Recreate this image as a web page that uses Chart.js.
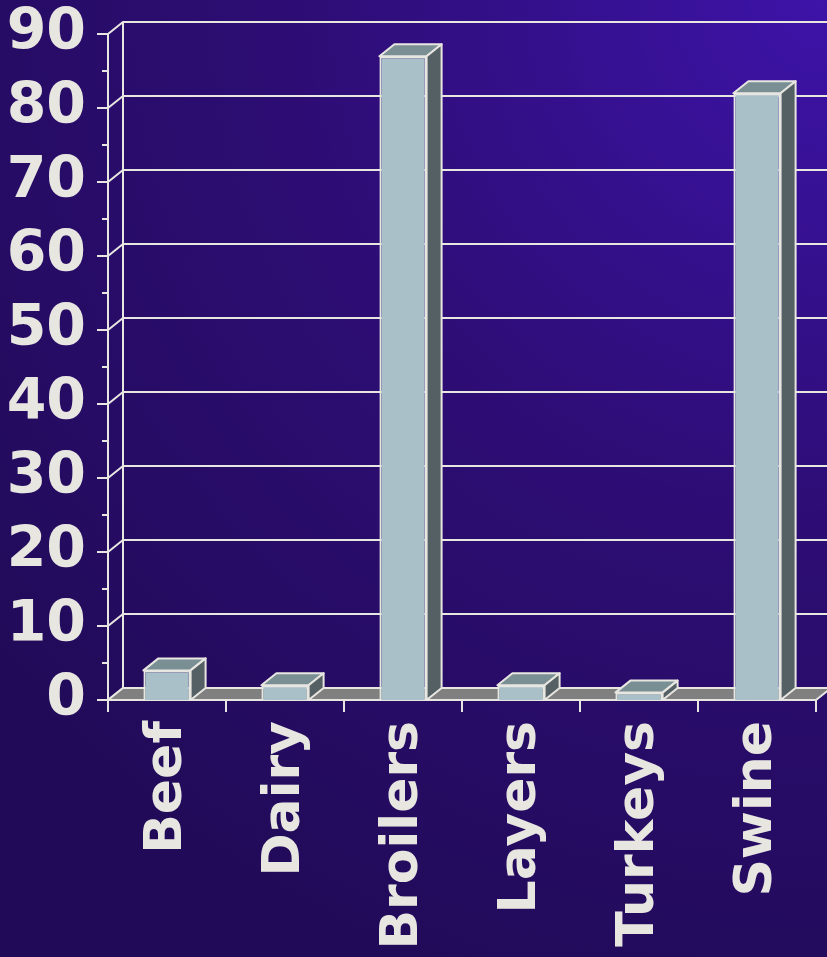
<!DOCTYPE html>
<html>
<head>
<meta charset="utf-8">
<script src="https://cdn.jsdelivr.net/npm/chart.js@4/dist/chart.umd.min.js"></script>
<style>
  html, body { margin: 0; padding: 0; }
  body {
    width: 827px; height: 957px; overflow: hidden;
    background: radial-gradient(ellipse 130% 110% at 100% 0%, #3d13a8 0%, #2d0d74 50%, #210b58 100%);
  }
  canvas { display: block; }
</style>
</head>
<body>
<canvas id="barChart" width="827" height="957"></canvas>
<script>
// categorias y valores del grafico
const categories = ['Beef', 'Dairy', 'Broilers', 'Layers', 'Turkeys', 'Swine'];
const values = [4, 2, 87, 2, 1, 82];
const yTicks = [0, 10, 20, 30, 40, 50, 60, 70, 80, 90];

const textColor = '#e8e6e1';
const lineColor = '#e8e6e1';
const depth = { x: 15, y: -12 }; // desplazamiento de la pared del fondo

// Plugin para dibujar el efecto 3D (pared, piso y caras de las barras)
const box3d = {
    id: 'box3d',
    beforeDatasetsDraw(chart) {
        const ctx = chart.ctx;
        const a = chart.chartArea;
        const y = chart.scales.y;
        const y0 = y.getPixelForValue(0);
        const yMax = y.getPixelForValue(yTicks[yTicks.length - 1]);
        ctx.save();
        ctx.strokeStyle = lineColor;
        ctx.lineWidth = 2;

        // pared del fondo
        ctx.beginPath();
        ctx.moveTo(a.left + depth.x, y0 + depth.y);
        ctx.lineTo(a.left + depth.x, yMax + depth.y);
        ctx.stroke();

        // lineas de la cuadricula + diagonales
        yTicks.forEach(v => {
            const py = y.getPixelForValue(v);
            ctx.beginPath();
            ctx.moveTo(a.left, py);
            ctx.lineTo(a.left + depth.x, py + depth.y);
            ctx.lineTo(chart.width + 20, py + depth.y);
            ctx.stroke();
            // marca mayor
            ctx.beginPath();
            ctx.moveTo(a.left - 11, py);
            ctx.lineTo(a.left, py);
            ctx.stroke();
            // marca menor
            if (v < yTicks[yTicks.length - 1]) {
                const pm = y.getPixelForValue(v + 5);
                ctx.beginPath();
                ctx.moveTo(a.left - 6, pm);
                ctx.lineTo(a.left, pm);
                ctx.stroke();
            }
        });

        // eje vertical frontal
        ctx.beginPath();
        ctx.moveTo(a.left, y0);
        ctx.lineTo(a.left, yMax);
        ctx.stroke();

        // piso
        ctx.beginPath();
        ctx.moveTo(a.left, y0);
        ctx.lineTo(a.right, y0);
        ctx.lineTo(a.right + depth.x, y0 + depth.y);
        ctx.lineTo(a.left + depth.x, y0 + depth.y);
        ctx.closePath();
        ctx.fillStyle = '#808080';
        ctx.fill();
        ctx.stroke();

        // marcas del eje x
        for (let i = 0; i <= categories.length; i++) {
            const px = a.left + (a.right - a.left) * i / categories.length;
            ctx.beginPath();
            ctx.moveTo(px, y0);
            ctx.lineTo(px, y0 + 12);
            ctx.stroke();
        }
        ctx.restore();
    },
    afterDatasetsDraw(chart) {
        const ctx = chart.ctx;
        const meta = chart.getDatasetMeta(0);
        ctx.save();
        ctx.strokeStyle = lineColor;
        ctx.lineWidth = 2;
        ctx.lineJoin = 'round';
        meta.data.forEach(bar => {
            const p = bar.getProps(['x', 'y', 'base', 'width'], true);
            const l = p.x - p.width / 2;
            const r = p.x + p.width / 2;
            // cara superior
            ctx.beginPath();
            ctx.moveTo(l, p.y);
            ctx.lineTo(l + depth.x, p.y + depth.y);
            ctx.lineTo(r + depth.x, p.y + depth.y);
            ctx.lineTo(r, p.y);
            ctx.closePath();
            ctx.fillStyle = '#7a8f94';
            ctx.fill();
            ctx.stroke();
            // cara lateral
            ctx.beginPath();
            ctx.moveTo(r, p.y);
            ctx.lineTo(r + depth.x, p.y + depth.y);
            ctx.lineTo(r + depth.x, p.base + depth.y);
            ctx.lineTo(r, p.base);
            ctx.closePath();
            ctx.fillStyle = '#546064';
            ctx.fill();
            ctx.stroke();
        });
        ctx.restore();
    }
};

const ctx = document.getElementById('barChart').getContext('2d');
const chart = new Chart(ctx, {
    type: 'bar',
    data: {
        labels: categories,
        datasets: [{
            data: values,
            backgroundColor: '#a9c0c9',
            borderColor: lineColor,
            borderWidth: 2,
            barPercentage: 0.4,
            categoryPercentage: 1
        }]
    },
    options: {
        responsive: false,
        animation: false,
        devicePixelRatio: 1,
        layout: { padding: { top: 34, right: 11, left: 0, bottom: 0 } },
        plugins: {
            legend: { display: false },
            tooltip: { enabled: false }
        },
        scales: {
            x: {
                grid: { display: false },
                border: { display: false },
                ticks: {
                    color: textColor,
                    font: { family: 'DejaVu Sans', weight: 'bold', size: 52 },
                    minRotation: 90,
                    maxRotation: 90,
                    autoSkip: false,
                    padding: 13
                },
                afterFit(scale) {
                    scale.height = 257;
                    scale.paddingLeft = 0;
                    scale.paddingRight = 0;
                }
            },
            y: {
                min: 0,
                max: 90,
                grid: { display: false },
                border: { display: false },
                afterBuildTicks(scale) { scale.ticks = yTicks.map(v => ({ value: v })); },
                ticks: {
                    color: textColor,
                    font: { family: 'DejaVu Sans', weight: 'bold', size: 57 },
                    padding: 14
                },
                afterFit(scale) {
                    scale.width = 108;
                    scale.paddingTop = 0;
                    scale.paddingBottom = 0;
                }
            }
        }
    },
    plugins: [box3d]
});
</script>
</body>
</html>
